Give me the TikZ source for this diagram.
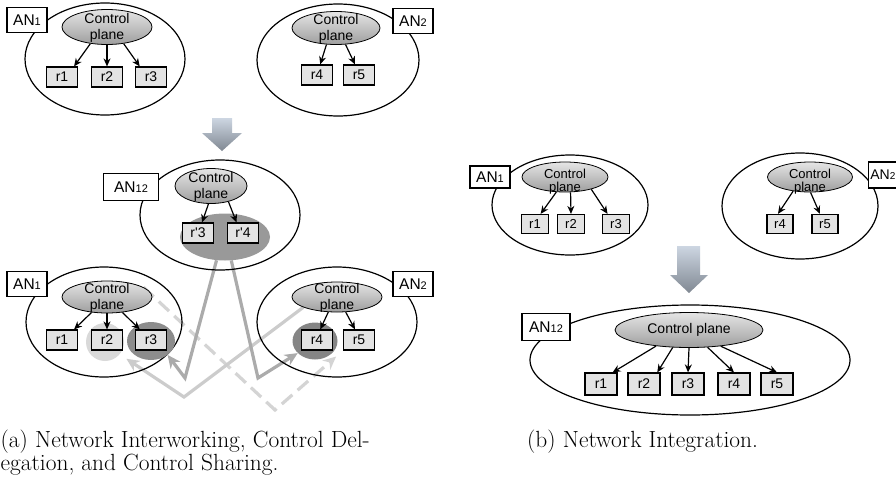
\documentclass[tikz,border=0pt]{standalone}
\usepackage{fontspec}
\newfontfamily\lsans{Liberation Sans}
\usetikzlibrary{shapes.geometric, arrows.meta, calc, backgrounds}
\definecolor{arrtop}{RGB}{205,214,226}
\definecolor{arrbot}{RGB}{128,136,146}
\newcommand\ANlab[1]{AN{\fontsize{11}{12}\selectfont #1}}
\newcommand\cpa{\raisebox{3.5pt}[0pt][0pt]{\makebox[0pt]{\begin{tabular}[t]{@{}c@{}}Control\\[-0.8pt]plane\end{tabular}}}}
\newcommand\cpb{\raisebox{-1.5pt}[0pt][0pt]{\makebox[0pt]{\begin{tabular}[t]{@{}c@{}}Control\\[-1.5pt]plane\end{tabular}}}}
\tikzset{
  lab/.style={font=\lsans\fontsize{14}{16.3}\selectfont},
  labs/.style={font=\lsans\fontsize{13}{14.5}\selectfont},
  anell/.style={ellipse, draw, line width=1.2pt, inner sep=0pt},
  cpe/.style={ellipse, draw, line width=0.8pt, inner sep=0pt, top color=black!10, bottom color=black!38, lab},
  rbox/.style={rectangle, draw, line width=1.2pt, fill=black!11, inner sep=0pt, minimum width=31pt, minimum height=20pt, lab},
  anbox/.style={rectangle, draw, line width=1.2pt, fill=white, inner sep=0pt, minimum width=40pt, minimum height=25pt, font=\lsans\fontsize{15.5}{17}\selectfont},
  blk/.style={line width=1.2pt, -{Stealth[length=8pt,width=7pt]}},
  blob/.style={ellipse, inner sep=0pt},
  gl/.style={line width=3.2pt, draw=black!33, -{Stealth[length=13pt,width=12pt]}},
  gll/.style={line width=3.2pt, draw=black!20, -{Stealth[length=13pt,width=12pt]}},
  gld/.style={line width=3.2pt, draw=black!17, dash pattern=on 14pt off 7pt, -{Stealth[length=13pt,width=12pt]}},
  bigarrow/.style={top color=arrtop, bottom color=arrbot, draw=none},
  captext/.style={anchor=base west, inner sep=0pt, font=\fontsize{23.4}{23}\selectfont}
}
\begin{document}
\begin{tikzpicture}[x=1pt,y=-1pt]
\useasboundingbox (0,0) rectangle (896,490);

% ---------- (a) top ----------
\node[anell, minimum width=160pt, minimum height=112pt] (e1t) at (105,59) {};
\node[anell, minimum width=162pt, minimum height=112pt] (e2t) at (338,60) {};
\node[cpe, minimum width=90pt, minimum height=35pt] (c1t) at (107,27) {\cpa};
\node[cpe, minimum width=88pt, minimum height=33pt] (c2t) at (336,28) {\cpa};
\node[rbox] (r1t) at (62,77) {r1};
\node[rbox] (r2t) at (107,77) {r2};
\node[rbox] (r3t) at (151,77) {r3};
\node[rbox] (r4t) at (317,75) {r4};
\node[rbox] (r5t) at (359,75) {r5};
\node[anbox] (a1t) at (27,20) {\ANlab{1}};
\node[anbox] (a2t) at (413,21) {\ANlab{2}};
\draw[blk] (c1t.225) -- ($(r1t.north east)!0.25!(r1t.north)$);
\draw[blk] (c1t.270) -- (r2t.north);
\draw[blk] (c1t.315) -- ($(r3t.north west)!0.3!(r3t.north)$);
\draw[blk] (c2t.240) -- ($(r4t.north)!0.2!(r4t.north east)$);
\draw[blk] (c2t.300) -- ($(r5t.north)!0.25!(r5t.north west)$);

% big arrow (a)
\shade[bigarrow] (212,118) -- (232,118) -- (232,133) -- (242,133) -- (222,151) -- (202,133) -- (212,133) -- cycle;

% ---------- (a) AN12 ----------
\node[anell, minimum width=160pt, minimum height=110pt] (e12) at (220,215) {};
\node[blob, fill=black!40, minimum width=90pt, minimum height=47pt] (b12) at (225,237) {};
\node[cpe, minimum width=72pt, minimum height=35pt] (c12) at (211,186) {\cpa};
\node[rbox] (r3p) at (198,233) {r'3};
\node[rbox] (r4p) at (243,233) {r'4};
\node[anbox, minimum width=55pt, minimum height=27pt] (a12) at (131,187) {\ANlab{12}};
\draw[blk] (c12.262) -- ($(r3p.north)!0.25!(r3p.north east)$);
\draw[blk] (c12.318) -- ($(r4p.north)!0.4!(r4p.north west)$);

% ---------- (a) bottom ----------
\node[anell, minimum width=156pt, minimum height=110pt] (e1b) at (104,322) {};
\node[blob, fill=black!15, minimum width=38pt, minimum height=38pt] (b2) at (105,342) {};
\node[blob, fill=black!45, minimum width=48pt, minimum height=38pt] (b3) at (151,341) {};
\node[cpe, minimum width=90pt, minimum height=32pt] (c1b) at (107,297) {\cpa};
\node[rbox] (r1b) at (62,340) {r1};
\node[rbox] (r2b) at (107,340) {r2};
\node[rbox] (r3b) at (151,340) {r3};
\node[anbox] (a1b) at (27,284) {\ANlab{1}};
\draw[blk] (c1b.225) -- ($(r1b.north east)!0.25!(r1b.north)$);
\draw[blk] (c1b.270) -- (r2b.north);
\draw[blk] (c1b.315) -- ($(r3b.north west)!0.3!(r3b.north)$);

\node[anell, minimum width=160pt, minimum height=110pt] (e2b) at (337,322) {};
\node[blob, fill=black!48, minimum width=45pt, minimum height=37pt] (b4) at (315,341) {};
\node[cpe, minimum width=90pt, minimum height=30pt] (c2b) at (337,297) {\cpa};
\node[rbox] (r4b) at (317,340) {r4};
\node[rbox] (r5b) at (359,340) {r5};
\node[anbox] (a2b) at (413,284) {\ANlab{2}};
\draw[blk] (c2b.240) -- ($(r4b.north)!0.2!(r4b.north east)$);
\draw[blk] (c2b.300) -- ($(r5b.north)!0.25!(r5b.north west)$);

% gray connectors
\coordinate (v1) at (185,378);
\coordinate (v2) at (258,378);
\coordinate (v3) at (184,397);
\coordinate (v4) at (275,410);
\begin{scope}[on background layer]
\draw[gld, shorten >=9pt] (c1b.15) -- (v4) -- (r5b.south west);
\draw[gll, shorten >=8pt] (c2b.197) -- (v3) -- (b2.-40);
\draw[gl] (b12.250) -- (v1) -- (b3.-40);
\draw[gl] (b12.285) -- (v2) -- (b4.215);
\end{scope}

% ---------- (b) top ----------
\node[anell, minimum width=156pt, minimum height=100pt] (e1r) at (570,205) {};
\node[anell, minimum width=156pt, minimum height=106pt] (e2r) at (800,206) {};
\node[cpe, labs, minimum width=86pt, minimum height=30pt] (c1r) at (565,177) {\cpb};
\node[cpe, labs, minimum width=85pt, minimum height=30pt] (c2r) at (810,177) {\cpb};
\node[rbox, labs, minimum width=27pt, minimum height=19pt] (r1r) at (535,224) {r1};
\node[rbox, labs, minimum width=27pt, minimum height=19pt] (r2r) at (571,224) {r2};
\node[rbox, labs, minimum width=27pt, minimum height=19pt] (r3r) at (616,224) {r3};
\node[rbox, labs, minimum width=26pt, minimum height=19pt] (r4r) at (780,224) {r4};
\node[rbox, labs, minimum width=26pt, minimum height=19pt] (r5r) at (825,224) {r5};
\node[anbox, minimum height=22pt] (a1r) at (490,177) {\ANlab{1}};
\node[anbox, anchor=east, minimum width=29pt, minimum height=26pt, font=\lsans\fontsize{14}{16}\selectfont] (a2r) at (898,175) {AN{\fontsize{10}{12}\selectfont 2}};
\draw[blk] (c1r.240) -- ($(r1r.north)!0.4!(r1r.north east)$);
\draw[blk] (c1r.290) -- (r2r.north);
\draw[blk] (c1r.335) -- ($(r3r.north)!0.6!(r3r.north west)$);
\draw[blk] (c2r.220) -- ($(r4r.north)!0.15!(r4r.north west)$);
\draw[blk] (c2r.272) -- ($(r5r.north)!0.37!(r5r.north west)$);

% big arrow (b)
\shade[bigarrow] (677,246) -- (700,246) -- (700,275) -- (708,275) -- (689,293) -- (670,275) -- (677,275) -- cycle;

% ---------- (b) bottom ----------
\node[anell, minimum width=320pt, minimum height=110pt] (e12r) at (690,360) {};
\node[cpe, minimum width=148pt, minimum height=35pt] (c12r) at (689,330) {Control plane};
\node[rbox, minimum width=32pt, minimum height=22pt] (s1) at (601,384) {r1};
\node[rbox, minimum width=32pt, minimum height=22pt] (s2) at (644,384) {r2};
\node[rbox, minimum width=32pt, minimum height=22pt] (s3) at (688,384) {r3};
\node[rbox, minimum width=32pt, minimum height=22pt] (s4) at (734,384) {r4};
\node[rbox, minimum width=32pt, minimum height=22pt] (s5) at (777,384) {r5};
\node[anbox, minimum width=48pt, minimum height=27pt] (a12r) at (546,327) {\ANlab{12}};
\draw[blk] (c12r.206) -- ($(s1.north east)!0.3!(s1.north)$);
\draw[blk] (c12r.227) -- ($(s2.north east)!0.2!(s2.north)$);
\draw[blk] (c12r.270) -- (s3.north);
\draw[blk] (c12r.317) -- (s4.north);
\draw[blk] (c12r.333) -- (s5.north);

% captions
\node[captext] (capa1) at (0.5,447) {(a) Network Interworking, Control Del-};
\node[captext] (capa2) at (0.5,470) {egation, and Control Sharing.};
\node[captext] (capb) at (527,447) {(b) Network Integration.};
\end{tikzpicture}
\end{document}
